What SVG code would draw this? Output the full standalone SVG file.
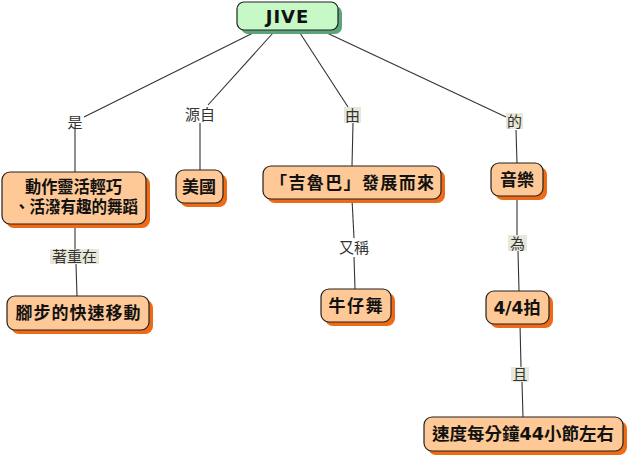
<svg xmlns="http://www.w3.org/2000/svg" width="630" height="456" viewBox="0 0 630 456">
<style>
.sh{fill:#ef6a14}
.box{fill:#fec996;stroke:#222;stroke-width:1.2}
.gsh{fill:#5aa57b}
.gbox{fill:#c6f9c6;stroke:#222;stroke-width:1.2}
.nt{font-family:"DejaVu Sans","Noto Sans CJK TC",sans-serif;font-weight:bold;font-size:17px;fill:#111;text-anchor:middle;dominant-baseline:central}
.jt{font-family:"DejaVu Sans",sans-serif;font-weight:bold;font-size:18px;fill:#111;text-anchor:middle;dominant-baseline:central;letter-spacing:1px}
.lb{fill:#e8e8d9}
.lt{font-family:"Liberation Sans","Noto Sans CJK TC",sans-serif;font-size:15px;fill:#333;text-anchor:middle;dominant-baseline:central}
.cn line{stroke:#333;stroke-width:1.1}
</style>
<rect width="630" height="456" fill="#fff"/>
<g id="connectors" class="cn">
<line x1="253" y1="33" x2="84" y2="117"/>
<line x1="75" y1="129" x2="75" y2="172"/>
<line x1="273" y1="33" x2="208" y2="105"/>
<line x1="200" y1="123" x2="200" y2="170"/>
<line x1="300" y1="33" x2="348" y2="107"/>
<line x1="353" y1="123" x2="352" y2="166"/>
<line x1="327" y1="33" x2="506" y2="117"/>
<line x1="516" y1="130" x2="517" y2="163"/>
<line x1="352" y1="199" x2="354" y2="238"/>
<line x1="354" y1="257" x2="355" y2="289"/>
<line x1="517" y1="196" x2="517" y2="235"/>
<line x1="518" y1="251" x2="519" y2="291"/>
<line x1="520" y1="324" x2="521" y2="367"/>
<line x1="522" y1="382" x2="523" y2="417"/>
<line x1="75" y1="224" x2="75" y2="249"/>
<line x1="76" y1="264" x2="77" y2="296"/>
</g>
<g id="labels">
<g id="l-shi"><text class="lt" x="75" y="122">是</text></g>
<g id="l-yuanzi"><text class="lt" x="200" y="114">源自</text></g>
<g id="l-you"><rect class="lb" x="344" y="107" width="17" height="16"/><text class="lt" x="352.5" y="115">由</text></g>
<g id="l-de"><rect class="lb" x="506" y="113" width="17" height="16"/><text class="lt" x="514.5" y="121">的</text></g>
<g id="l-youcheng"><text class="lt" x="354" y="247">又稱</text></g>
<g id="l-wei"><rect class="lb" x="508" y="235" width="19" height="16"/><text class="lt" x="517.5" y="243">為</text></g>
<g id="l-qie"><rect class="lb" x="511" y="367" width="18" height="15"/><text class="lt" x="520" y="374.5">且</text></g>
<g id="l-zhuzhong"><rect class="lb" x="50" y="249" width="49" height="15"/><text class="lt" x="74.5" y="256.5">著重在</text></g>
</g>
<g id="n-jive"><rect class="gsh" x="241" y="6" width="101" height="28" rx="7"/><rect class="gbox" x="237" y="2" width="101" height="28" rx="7"/><text class="jt" x="287.5" y="16">JIVE</text></g>
<g id="n-dance"><rect class="sh" x="6" y="176" width="144" height="52" rx="8"/><rect class="box" x="2" y="172" width="144" height="52" rx="8"/><text class="nt" x="73.5" y="187" textLength="97" lengthAdjust="spacingAndGlyphs">動作靈活輕巧</text><text class="nt" x="76" y="207" textLength="124" lengthAdjust="spacingAndGlyphs">、活潑有趣的舞蹈</text></g>
<g id="n-usa"><rect class="sh" x="180" y="174" width="47" height="33" rx="8"/><rect class="box" x="176" y="170" width="47" height="33" rx="8"/><text class="nt" x="199" y="186.5">美國</text></g>
<g id="n-jitterbug"><rect class="sh" x="267" y="170" width="178" height="33" rx="8"/><rect class="box" x="263" y="166" width="178" height="33" rx="8"/><text class="nt" x="352" y="182.5" textLength="164" lengthAdjust="spacing">「吉魯巴」發展而來</text></g>
<g id="n-music"><rect class="sh" x="495" y="167" width="52" height="33" rx="8"/><rect class="box" x="491" y="163" width="52" height="33" rx="8"/><text class="nt" x="517" y="179.5">音樂</text></g>
<g id="n-cowboy"><rect class="sh" x="325" y="293" width="70" height="33" rx="8"/><rect class="box" x="321" y="289" width="70" height="33" rx="8"/><text class="nt" x="355.5" y="305.5" textLength="54" lengthAdjust="spacing">牛仔舞</text></g>
<g id="n-beat"><rect class="sh" x="490" y="295" width="63" height="33" rx="8"/><rect class="box" x="486" y="291" width="63" height="33" rx="8"/><text class="nt" x="517" y="307.5" textLength="47" lengthAdjust="spacingAndGlyphs">4/4拍</text></g>
<g id="n-tempo"><rect class="sh" x="428" y="421" width="199" height="34" rx="8"/><rect class="box" x="424" y="417" width="199" height="34" rx="8"/><text class="nt" x="523" y="434" textLength="182" lengthAdjust="spacingAndGlyphs">速度每分鐘44小節左右</text></g>
<g id="n-steps"><rect class="sh" x="11" y="300" width="142" height="34" rx="8"/><rect class="box" x="7" y="296" width="142" height="34" rx="8"/><text class="nt" x="78" y="313" textLength="125" lengthAdjust="spacing">腳步的快速移動</text></g>
</svg>
